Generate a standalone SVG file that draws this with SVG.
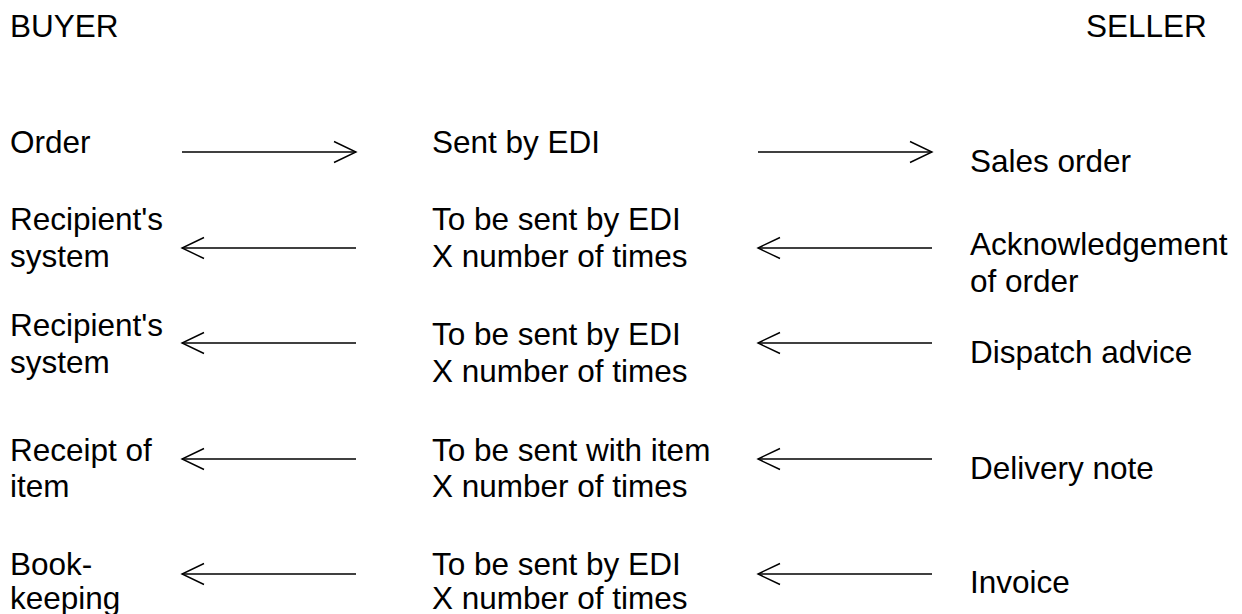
<svg xmlns="http://www.w3.org/2000/svg" width="1242" height="614" viewBox="0 0 1242 614">
<style>
text{font-family:"Liberation Sans",Arial,sans-serif;font-size:31.5px;fill:#000}
.c line,.c polyline{stroke:#000;stroke-width:1.4;fill:none}
</style>
<rect width="1242" height="614" fill="#fff"/>
<g id="hdr-buyer"><text x="10" y="37">BUYER</text></g>
<g id="hdr-seller"><text x="1086" y="37">SELLER</text></g>
<g id="b1"><text x="10" y="153">Order</text></g>
<g id="m1"><text x="432" y="153">Sent by EDI</text></g>
<g id="s1"><text x="970" y="172">Sales order</text></g>
<g id="b2"><text x="10" y="230">Recipient's</text><text x="10" y="267">system</text></g>
<g id="m2"><text x="432" y="230">To be sent by EDI</text><text x="432" y="267">X number of times</text></g>
<g id="s2"><text x="970" y="255">Acknowledgement</text><text x="970" y="292">of order</text></g>
<g id="b3"><text x="10" y="336">Recipient's</text><text x="10" y="373">system</text></g>
<g id="m3"><text x="432" y="345">To be sent by EDI</text><text x="432" y="382">X number of times</text></g>
<g id="s3"><text x="970" y="363">Dispatch advice</text></g>
<g id="b4"><text x="10" y="461">Receipt of</text><text x="10" y="497">item</text></g>
<g id="m4"><text x="432" y="461">To be sent with item</text><text x="432" y="497">X number of times</text></g>
<g id="s4"><text x="970" y="479">Delivery note</text></g>
<g id="b5"><text x="10" y="575">Book-</text><text x="10" y="609">keeping</text></g>
<g id="m5"><text x="432" y="575">To be sent by EDI</text><text x="432" y="609">X number of times</text></g>
<g id="s5"><text x="970" y="593">Invoice</text></g>
<g id="connectors" class="c">
<line x1="182" y1="152" x2="356" y2="152"/><polyline points="334,141.5 356,152 334,162.5"/>
<line x1="758" y1="152" x2="932" y2="152"/><polyline points="910,141.5 932,152 910,162.5"/>
<line x1="182" y1="248" x2="356" y2="248"/><polyline points="204,237.5 182,248 204,258.5"/>
<line x1="758" y1="248" x2="932" y2="248"/><polyline points="780,237.5 758,248 780,258.5"/>
<line x1="182" y1="343" x2="356" y2="343"/><polyline points="204,332.5 182,343 204,353.5"/>
<line x1="758" y1="343" x2="932" y2="343"/><polyline points="780,332.5 758,343 780,353.5"/>
<line x1="182" y1="459" x2="356" y2="459"/><polyline points="204,448.5 182,459 204,469.5"/>
<line x1="758" y1="459" x2="932" y2="459"/><polyline points="780,448.5 758,459 780,469.5"/>
<line x1="182" y1="574" x2="356" y2="574"/><polyline points="204,563.5 182,574 204,584.5"/>
<line x1="758" y1="574" x2="932" y2="574"/><polyline points="780,563.5 758,574 780,584.5"/>
</g>
</svg>
